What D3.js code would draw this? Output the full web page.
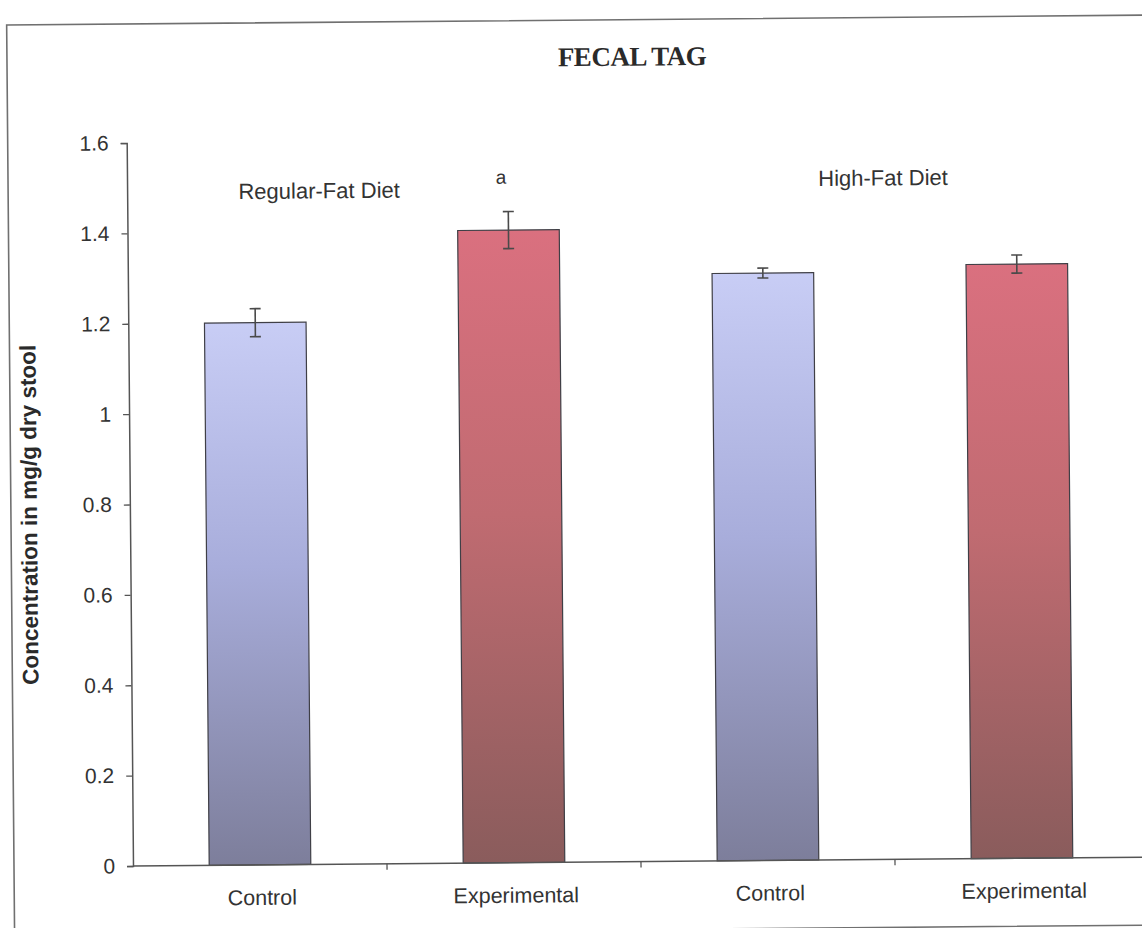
<!DOCTYPE html>
<html>
<head>
<meta charset="utf-8">
<script src="https://cdn.jsdelivr.net/npm/d3@7"></script>
<style>
  html, body { margin: 0; padding: 0; background: #ffffff; }
  svg { display: block; }
</style>
</head>
<body>
<div id="chart"></div>
<script>
// ---- data ----
const categories = ["Control", "Experimental", "Control", "Experimental"];
const groups = ["regular", "regular", "high", "high"];
const kinds = ["control", "experimental", "control", "experimental"];
const values = [1.2, 1.4, 1.3, 1.315];
const errors = [0.031, 0.041, 0.011, 0.02];
const yTicks = [0, 0.2, 0.4, 0.6, 0.8, 1, 1.2, 1.4, 1.6];
const title = "FECAL TAG";
const yTitle = "Concentration in mg/g dry stool";
const groupLabels = ["Regular-Fat Diet", "High-Fat Diet"];
const markLabel = "a";
const markIndex = 1;

// ---- layout ----
const W = 1142, H = 928;
const plot = { left: 133, bottom: 866, top: 143, step: 254 };
const tilt = -0.5;
const sans = "Arial, 'Liberation Sans', sans-serif";

const svg = d3.select("#chart").append("svg")
  .attr("width", W).attr("height", H);

const defs = svg.append("defs");
const gradStops = {
  control: ["#c8cdf5", "#a8addb", "#7d7e9b"],
  experimental: ["#da707f", "#c06b71", "#8a5c5c"]
};
Object.entries(gradStops).forEach(([k, cols]) => {
  const g = defs.append("linearGradient").attr("id", "grad-" + k)
    .attr("x1", 0).attr("y1", 0).attr("x2", 0).attr("y2", 1);
  g.append("stop").attr("offset", "0%").attr("stop-color", cols[0]);
  g.append("stop").attr("offset", "45%").attr("stop-color", cols[1]);
  g.append("stop").attr("offset", "100%").attr("stop-color", cols[2]);
});

const root = svg.append("g")
  .attr("transform", `rotate(${tilt},${plot.left},${plot.bottom})`);

// outer frame
root.append("rect")
  .attr("x", 14).attr("y", 24)
  .attr("width", 1200).attr("height", 910)
  .attr("fill", "none").attr("stroke", "#707070").attr("stroke-width", 1.6);

const x = d3.scaleBand()
  .domain(d3.range(categories.length))
  .range([plot.left, plot.left + plot.step * categories.length])
  .paddingInner(0).paddingOuter(0);

const y = d3.scaleLinear().domain([0, 1.6]).range([plot.bottom, plot.top]);

const bw = x.bandwidth() * 0.4;

// bars
root.append("g").selectAll("rect")
  .data(values)
  .join("rect")
  .attr("x", (d, i) => x(i) + (x.bandwidth() - bw) / 2)
  .attr("y", d => y(d))
  .attr("width", bw)
  .attr("height", d => y(0) - y(d))
  .attr("fill", (d, i) => `url(#grad-${kinds[i]})`)
  .attr("stroke", "#3f3f46")
  .attr("stroke-width", 1.2);

// error bars
const eb = root.append("g").attr("stroke", "#4a4a4a").attr("stroke-width", 1.6);
values.forEach((v, i) => {
  const cx = x(i) + x.bandwidth() / 2;
  const e = errors[i];
  eb.append("line").attr("x1", cx).attr("x2", cx)
    .attr("y1", y(v + e)).attr("y2", y(v - e));
  [v + e, v - e].forEach(t => {
    eb.append("line").attr("x1", cx - 5.5).attr("x2", cx + 5.5)
      .attr("y1", y(t)).attr("y2", y(t));
  });
});

// y axis
const yAxis = root.append("g")
  .attr("transform", `translate(${plot.left},0)`)
  .call(d3.axisLeft(y).tickValues(yTicks).tickSize(6).tickPadding(12)
    .tickFormat(d => String(d)));
yAxis.select(".domain").attr("stroke", "#555").attr("stroke-width", 1.5);
yAxis.selectAll(".tick line").attr("stroke", "#555").attr("stroke-width", 1.3);
yAxis.selectAll(".tick text")
  .attr("fill", "#333")
  .style("font-family", sans)
  .style("font-size", "21px");

// x axis: baseline, boundary ticks, centred category labels
const xAxis = root.append("g");
xAxis.append("line")
  .attr("x1", plot.left).attr("x2", x.range()[1])
  .attr("y1", y(0)).attr("y2", y(0))
  .attr("stroke", "#555").attr("stroke-width", 1.5);
xAxis.selectAll("line.tick")
  .data(d3.range(1, categories.length))
  .join("line").attr("class", "tick")
  .attr("x1", i => x(i)).attr("x2", i => x(i))
  .attr("y1", y(0)).attr("y2", y(0) + 6)
  .attr("stroke", "#555").attr("stroke-width", 1.3);
xAxis.selectAll("text")
  .data(categories)
  .join("text")
  .attr("x", (d, i) => x(i) + x.bandwidth() / 2 + 2)
  .attr("y", y(0) + 40)
  .attr("text-anchor", "middle")
  .attr("fill", "#333")
  .style("font-family", sans)
  .style("font-size", "21.5px")
  .text(d => d);

// y axis title
root.append("text")
  .attr("transform", "translate(40,514) rotate(-90)")
  .attr("text-anchor", "middle")
  .attr("fill", "#2a2a2a")
  .style("font-family", sans)
  .style("font-weight", "bold")
  .style("font-size", "22.5px")
  .text(yTitle);

// chart title
root.append("text")
  .attr("x", 639).attr("y", 70)
  .attr("text-anchor", "middle")
  .attr("fill", "#2a2a2a")
  .style("font-family", "'Liberation Serif', 'Times New Roman', serif")
  .style("font-weight", "bold")
  .style("font-size", "27px")
  .style("letter-spacing", "-0.5px")
  .text(title);

// diet group labels and significance mark
const groupLabelPos = [{ x: 325, y: 200 }, { x: 889, y: 192 }];
root.selectAll("text.group")
  .data(groupLabels)
  .join("text").attr("class", "group")
  .attr("x", (d, i) => groupLabelPos[i].x)
  .attr("y", (d, i) => groupLabelPos[i].y)
  .attr("text-anchor", "middle")
  .attr("fill", "#333")
  .style("font-family", sans)
  .style("font-size", "22px")
  .text(d => d);

root.append("text")
  .attr("x", x(markIndex) + x.bandwidth() / 2 - 7)
  .attr("y", 187)
  .attr("text-anchor", "middle")
  .attr("fill", "#333")
  .style("font-family", sans)
  .style("font-size", "19px")
  .text(markLabel);
</script>
</body>
</html>
